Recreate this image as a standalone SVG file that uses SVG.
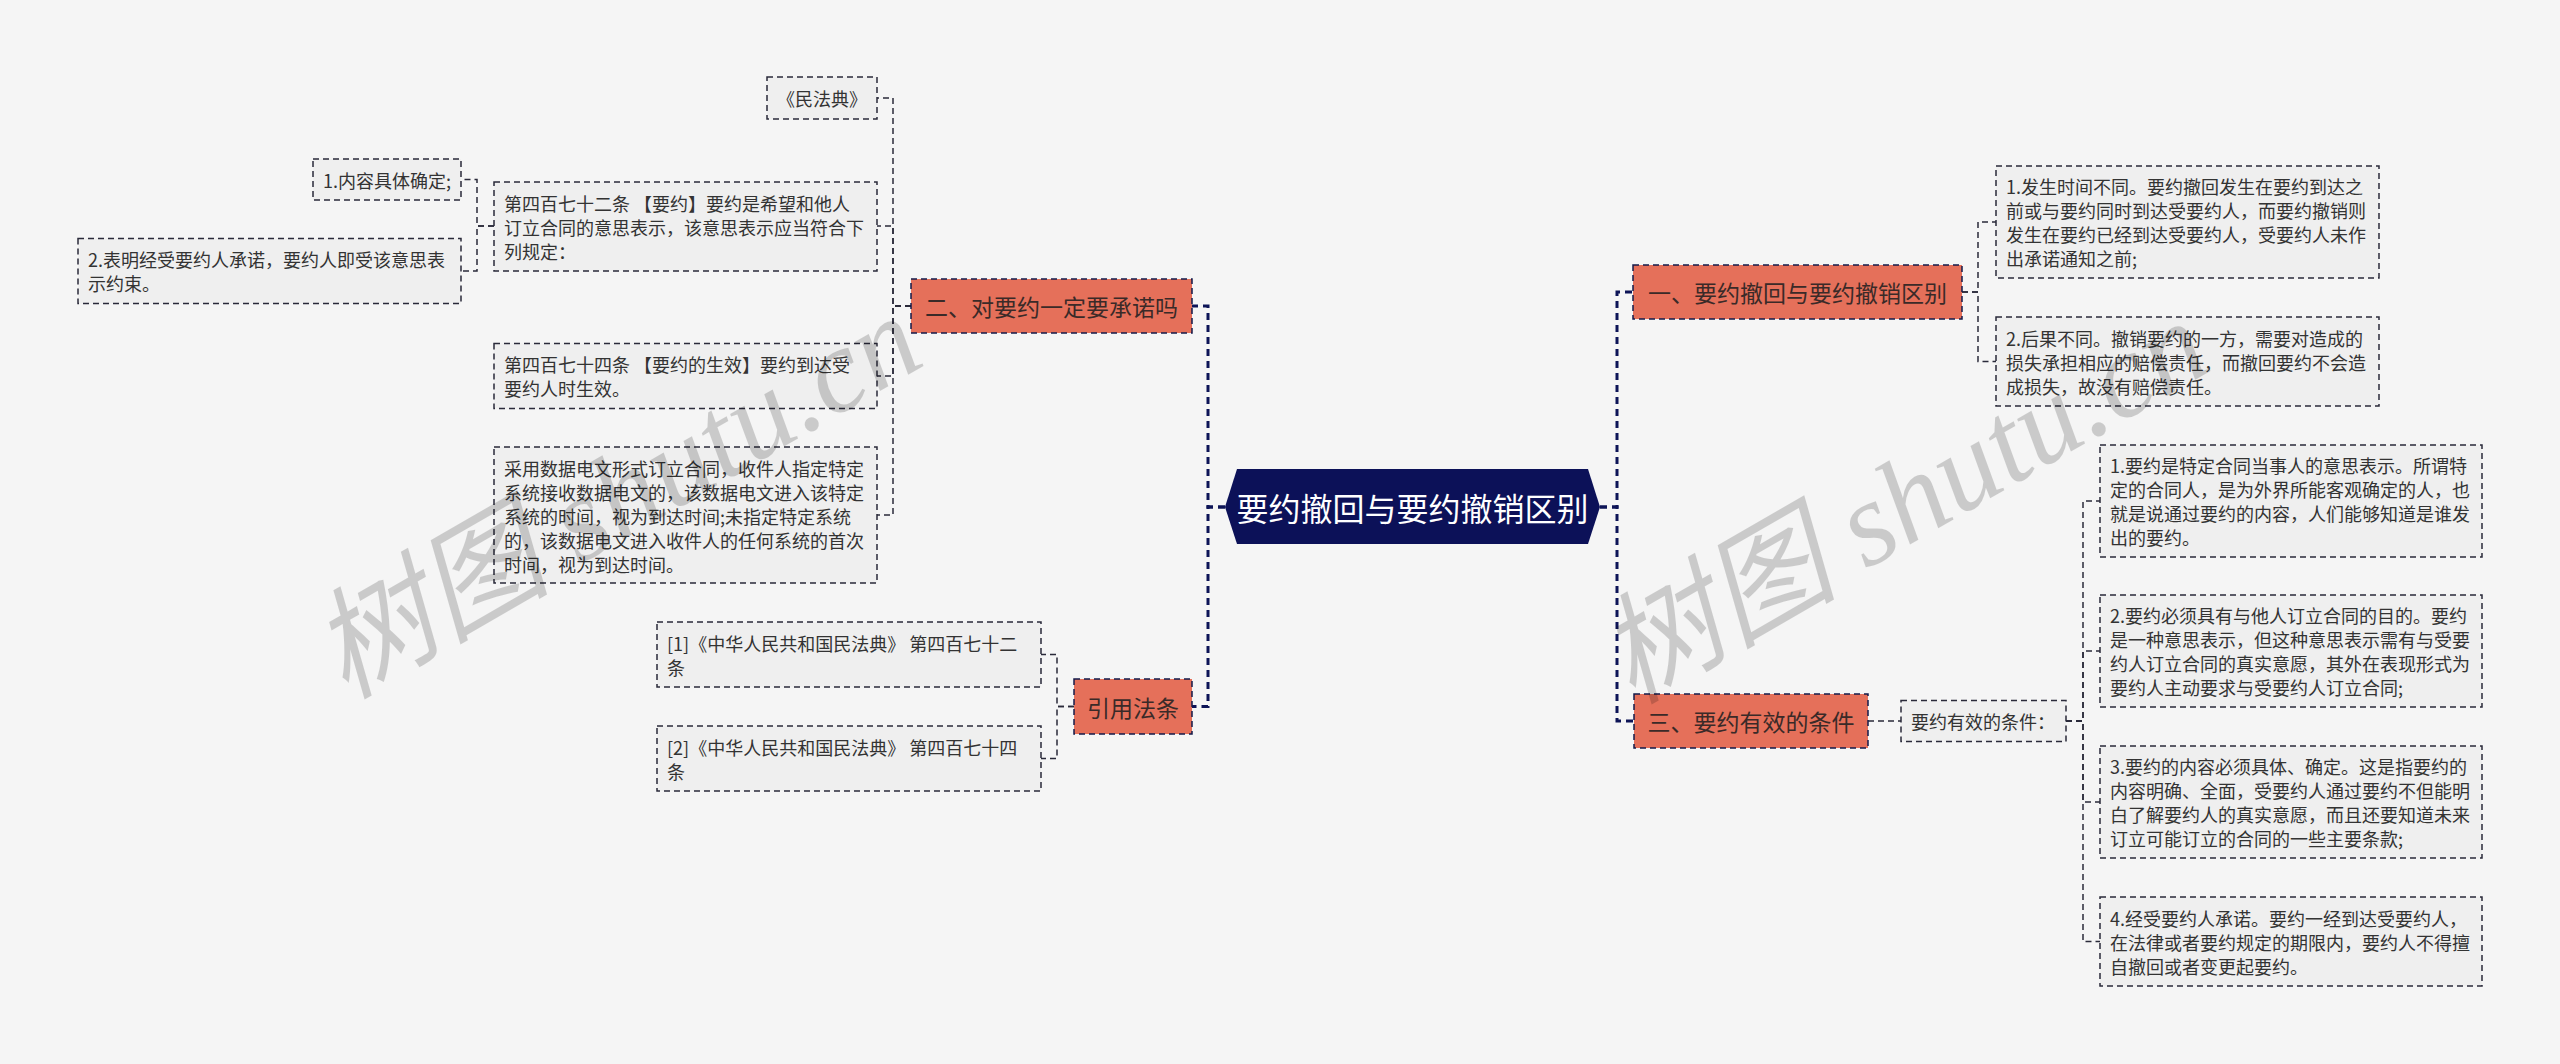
<svg xmlns="http://www.w3.org/2000/svg" width="2560" height="1064" viewBox="0 0 2560 1064">
<style>
.bg{fill:#f5f5f5}
.leaf{fill:#efefef;stroke:#2a2a3a;stroke-width:1.5;stroke-dasharray:6 4}
.br{fill:#e5705a;stroke:#141a4a;stroke-width:1.5;stroke-dasharray:6 4}
.lt{font-family:"Noto Sans CJK SC","Liberation Sans",sans-serif;font-size:18px;fill:#333;dominant-baseline:central}
.bt{font-family:"Noto Sans CJK SC","Liberation Sans",sans-serif;font-size:23px;fill:#3a2a28;dominant-baseline:central;text-anchor:middle}
.ct{font-family:"Noto Sans CJK SC","Liberation Sans",sans-serif;font-size:32px;fill:#ffffff;dominant-baseline:central;text-anchor:middle}
.ln{fill:none;stroke:#2a2a3a;stroke-width:1.5;stroke-dasharray:6 4}
.mln{fill:none;stroke:#0d1457;stroke-width:3;stroke-dasharray:7 5}
.wm{font-family:"Liberation Serif","Noto Sans CJK SC",serif;font-style:italic;font-size:120px;fill:#000;opacity:0.17}
</style>
<rect class="bg" x="0" y="0" width="2560" height="1064"/>

<g id="connectors">
<path class="mln" d="M1225,507 H1208 V306 H1192"/>
<path class="mln" d="M1225,507 H1208 V706.5 H1192"/>
<path class="mln" d="M1600,507 H1617 V292 H1633"/>
<path class="mln" d="M1600,507 H1617 V721 H1634"/>
<path class="ln" d="M911,306 H893 V98 H877"/>
<path class="ln" d="M911,306 H893 V226 H877"/>
<path class="ln" d="M911,306 H893 V376 H877"/>
<path class="ln" d="M911,306 H893 V515 H877"/>
<path class="ln" d="M494,226 H477 V179.5 H461"/>
<path class="ln" d="M494,226 H477 V271 H461"/>
<path class="ln" d="M1074,706.5 H1057 V654.5 H1041"/>
<path class="ln" d="M1074,706.5 H1057 V758.5 H1041"/>
<path class="ln" d="M1962,292 H1978 V222 H1996"/>
<path class="ln" d="M1962,292 H1978 V361.5 H1996"/>
<path class="ln" d="M1868,721 H1901"/>
<path class="ln" d="M2066,721 H2083 V501 H2100"/>
<path class="ln" d="M2066,721 H2083 V651 H2100"/>
<path class="ln" d="M2066,721 H2083 V802 H2100"/>
<path class="ln" d="M2066,721 H2083 V941.5 H2100"/>
</g>

<g id="center">
<polygon points="1225,507 1237,469 1588,469 1600,507 1588,544 1237,544" fill="#0c1158"/>
<text class="ct" x="1412.5" y="507">要约撤回与要约撤销区别</text>
</g>

<g id="branch-2">
<rect class="br" x="911" y="279" width="281" height="54"/>
<text class="bt" x="1051.5" y="306">二、对要约一定要承诺吗</text>
</g>

<g id="node-minfadian">
<rect class="leaf" x="767" y="77" width="110" height="42"/>
<text class="lt" x="822" y="98" text-anchor="middle">《民法典》</text>
</g>

<g id="node-472">
<rect class="leaf" x="494" y="182" width="383" height="89"/>
<text class="lt" x="504"><tspan x="504" y="202.5">第四百七十二条 【要约】要约是希望和他人</tspan><tspan x="504" y="226.5">订立合同的意思表示，该意思表示应当符合下</tspan><tspan x="504" y="250.5">列规定：</tspan></text>
</g>

<g id="node-472-1">
<rect class="leaf" x="313" y="159" width="148" height="41"/>
<text class="lt" x="323" y="179.5">1.内容具体确定;</text>
</g>

<g id="node-472-2">
<rect class="leaf" x="78" y="238.5" width="383" height="65"/>
<text class="lt"><tspan x="88" y="259">2.表明经受要约人承诺，要约人即受该意思表</tspan><tspan x="88" y="283">示约束。</tspan></text>
</g>

<g id="node-474">
<rect class="leaf" x="494" y="343.5" width="383" height="65"/>
<text class="lt"><tspan x="504" y="364">第四百七十四条 【要约的生效】要约到达受</tspan><tspan x="504" y="388">要约人时生效。</tspan></text>
</g>

<g id="node-data">
<rect class="leaf" x="494" y="447" width="383" height="136"/>
<text class="lt"><tspan x="504" y="467.5">采用数据电文形式订立合同，收件人指定特定</tspan><tspan x="504" y="491.5">系统接收数据电文的，该数据电文进入该特定</tspan><tspan x="504" y="515.5">系统的时间，视为到达时间;未指定特定系统</tspan><tspan x="504" y="539.5">的，该数据电文进入收件人的任何系统的首次</tspan><tspan x="504" y="563.5">时间，视为到达时间。</tspan></text>
</g>

<g id="branch-cite">
<rect class="br" x="1074" y="679" width="118" height="55"/>
<text class="bt" x="1133" y="706.5">引用法条</text>
</g>

<g id="node-cite-1">
<rect class="leaf" x="657" y="622" width="384" height="65"/>
<text class="lt"><tspan x="667" y="642.5">[1]《中华人民共和国民法典》 第四百七十二</tspan><tspan x="667" y="666.5">条</tspan></text>
</g>

<g id="node-cite-2">
<rect class="leaf" x="657" y="726" width="384" height="65"/>
<text class="lt"><tspan x="667" y="746.5">[2]《中华人民共和国民法典》 第四百七十四</tspan><tspan x="667" y="770.5">条</tspan></text>
</g>

<g id="branch-1">
<rect class="br" x="1633" y="265" width="329" height="54"/>
<text class="bt" x="1797.5" y="292">一、要约撤回与要约撤销区别</text>
</g>

<g id="node-1-1">
<rect class="leaf" x="1996" y="166" width="383" height="112"/>
<text class="lt"><tspan x="2006" y="186">1.发生时间不同。要约撤回发生在要约到达之</tspan><tspan x="2006" y="210">前或与要约同时到达受要约人，而要约撤销则</tspan><tspan x="2006" y="234">发生在要约已经到达受要约人，受要约人未作</tspan><tspan x="2006" y="258">出承诺通知之前;</tspan></text>
</g>

<g id="node-1-2">
<rect class="leaf" x="1996" y="317" width="383" height="89"/>
<text class="lt"><tspan x="2006" y="337.5">2.后果不同。撤销要约的一方，需要对造成的</tspan><tspan x="2006" y="361.5">损失承担相应的赔偿责任，而撤回要约不会造</tspan><tspan x="2006" y="385.5">成损失，故没有赔偿责任。</tspan></text>
</g>

<g id="branch-3">
<rect class="br" x="1634" y="694" width="234" height="54"/>
<text class="bt" x="1751" y="721">三、要约有效的条件</text>
</g>

<g id="node-cond">
<rect class="leaf" x="1901" y="700.5" width="165" height="41"/>
<text class="lt" x="1911" y="721">要约有效的条件：</text>
</g>

<g id="node-cond-1">
<rect class="leaf" x="2100" y="445" width="382" height="112"/>
<text class="lt"><tspan x="2110" y="465">1.要约是特定合同当事人的意思表示。所谓特</tspan><tspan x="2110" y="489">定的合同人，是为外界所能客观确定的人，也</tspan><tspan x="2110" y="513">就是说通过要约的内容，人们能够知道是谁发</tspan><tspan x="2110" y="537">出的要约。</tspan></text>
</g>

<g id="node-cond-2">
<rect class="leaf" x="2100" y="595" width="382" height="112"/>
<text class="lt"><tspan x="2110" y="615">2.要约必须具有与他人订立合同的目的。要约</tspan><tspan x="2110" y="639">是一种意思表示，但这种意思表示需有与受要</tspan><tspan x="2110" y="663">约人订立合同的真实意愿，其外在表现形式为</tspan><tspan x="2110" y="687">要约人主动要求与受要约人订立合同;</tspan></text>
</g>

<g id="node-cond-3">
<rect class="leaf" x="2100" y="746" width="382" height="112"/>
<text class="lt"><tspan x="2110" y="766">3.要约的内容必须具体、确定。这是指要约的</tspan><tspan x="2110" y="790">内容明确、全面，受要约人通过要约不但能明</tspan><tspan x="2110" y="814">白了解要约人的真实意愿，而且还要知道未来</tspan><tspan x="2110" y="838">订立可能订立的合同的一些主要条款;</tspan></text>
</g>

<g id="node-cond-4">
<rect class="leaf" x="2100" y="897" width="382" height="89"/>
<text class="lt"><tspan x="2110" y="917.5">4.经受要约人承诺。要约一经到达受要约人，</tspan><tspan x="2110" y="941.5">在法律或者要约规定的期限内，要约人不得擅</tspan><tspan x="2110" y="965.5">自撤回或者变更起要约。</tspan></text>
</g>

<g id="watermarks">
<text class="wm" transform="translate(345,700) rotate(-30)">树图 shutu.cn</text>
<text class="wm" transform="translate(1632,705) rotate(-30)">树图 shutu.cn</text>
</g>
</svg>
